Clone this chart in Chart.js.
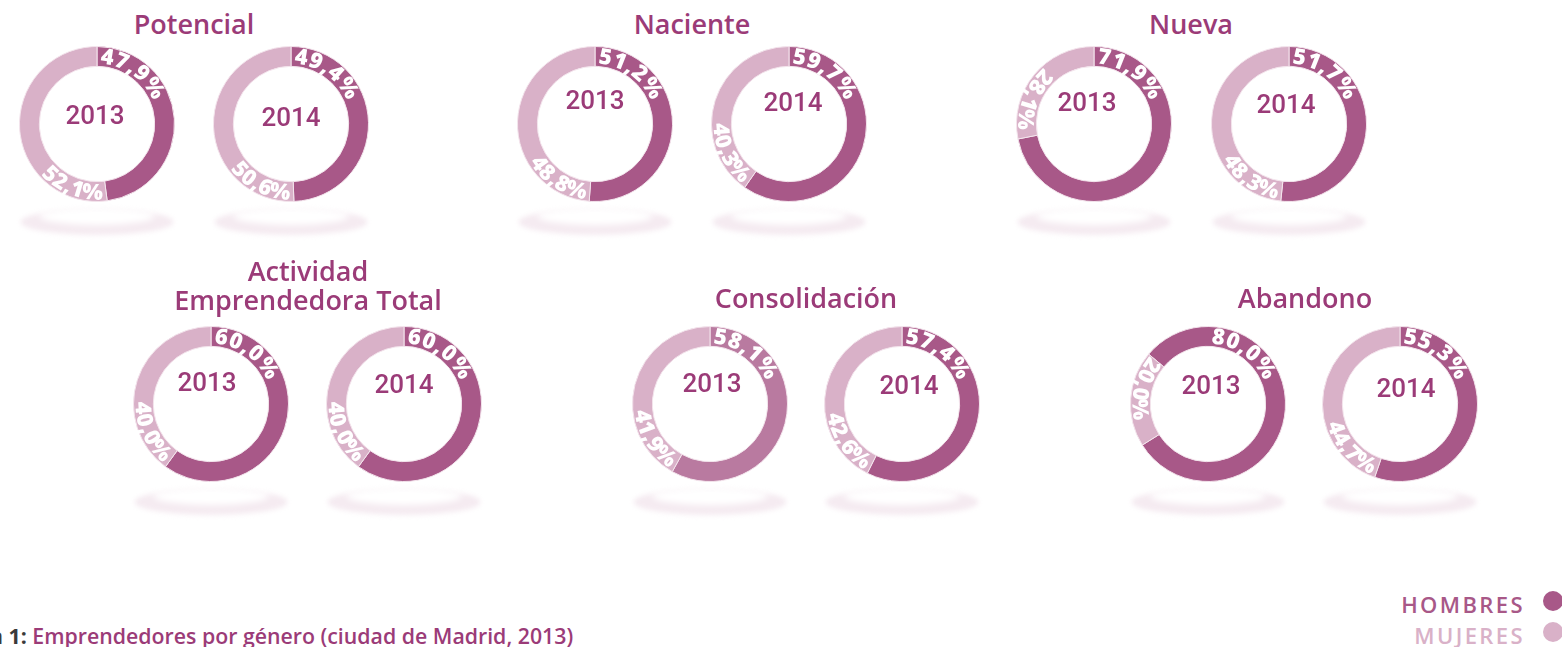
<!DOCTYPE html>
<html>
<head>
<meta charset="utf-8">
<script src="https://cdn.jsdelivr.net/npm/chart.js@4/dist/chart.umd.min.js"></script>
<style>
  html, body { margin: 0; padding: 0; background: #fff; }
  #wrap { position: relative; width: 1562px; height: 647px; overflow: hidden; font-family: "Open Sans", sans-serif; }
  .title { position: absolute; color: #9b3b78; font-weight: 600; font-size: 27px; line-height: 29px; text-align: center; transform: translateX(-50%); white-space: nowrap; }
  .year { position: absolute; color: #9b3b78; font-family: Roboto, sans-serif; font-weight: 500; font-size: 26px; line-height: 26px; transform: translate(-50%, -50%); }
  .cv { position: absolute; }
  #caption { position: absolute; left: -11px; top: 621px; font-size: 21.3px; font-weight: 600; color: #9b3b78; white-space: nowrap; }
  #caption b { color: #3a3a3a; font-weight: 700; }
  .leg { position: absolute; right: 37px; font-size: 22px; font-weight: 600; letter-spacing: 2.4px; white-space: nowrap; }
  .dot { position: absolute; width: 20px; height: 20px; border-radius: 50%; }
</style>
</head>
<body>
<div id="wrap"></div>
<script>
// ---- data ----
const groups = ['Potencial', 'Naciente', 'Nueva', 'Actividad Emprendedora Total', 'Consolidación', 'Abandono'];
const years = ['2013', '2014'];
const seriesNames = ['HOMBRES', 'MUJERES'];
const hombres2013 = [47.9, 51.2, 71.9, 60.0, 58.1, 80.0];
const mujeres2013 = [52.1, 48.8, 28.1, 40.0, 41.9, 20.0];
const hombres2014 = [49.4, 59.7, 51.7, 60.0, 57.4, 55.3];
const mujeres2014 = [50.6, 40.3, 48.3, 40.0, 42.6, 44.7];
const captionPrefix = 'n 1:';
const captionText = 'Emprendedores por género (ciudad de Madrid, 2013)';

// ---- layout / style (separate from data) ----
const DARK = '#a85888', DARK_ALT = '#b97aa0', LIGHT = '#d9b1c8';
const centers = [ // [cx2013, cx2014, cy]
  [97, 291, 124], [595, 789, 124], [1094, 1289, 124],
  [211, 404, 404], [710, 902, 404], [1208, 1400, 404]
];
const yearOffsets = [ // [[dx,dy] 2013, [dx,dy] 2014]
  [[-2, -9], [0, -7]], [[0, -24], [4, -22]], [[-7, -22], [-3, -20]],
  [[-4, -22], [0, -20]], [[2, -21], [7, -19]], [[3, -19], [6, -16]]
];
const rotations = [[0, 0], [0, 0], [0, 0], [0, 0], [0, 0], [-50, 0]];
const lightGaps = [[4, 4], [4, 4], [9, 4], [4, 4], [4, 4], [25, 4]];
const titlePos = [[194, 9], [692, 9], [1191, 9], [308, 256], [806, 283], [1305, 283]];

const wrap = document.getElementById('wrap');
const fmt = v => v.toFixed(1).replace('.', ',') + '%';

function drawArcText(ctx, text, cx, cy, r, angle, dir) {
  ctx.textAlign = 'center';
  ctx.textBaseline = 'alphabetic';
  const chars = text.split('');
  const widths = chars.map(c => ctx.measureText(c).width + 0.6);
  const total = widths.reduce((a, b) => a + b, 0);
  let th = dir === 1 ? angle : angle + total / r;
  chars.forEach((ch, i) => {
    const w = widths[i];
    const tc = th + dir * (w / 2) / r;
    ctx.save();
    ctx.translate(cx + r * Math.cos(tc), cy + r * Math.sin(tc));
    ctx.rotate(dir === 1 ? tc + Math.PI / 2 : tc - Math.PI / 2);
    ctx.fillText(ch, 0, 0);
    ctx.restore();
    th += dir * w / r;
  });
}

const decoPlugin = {
  id: 'deco',
  beforeDraw(chart) {
    const ctx = chart.ctx;
    const a = chart.getDatasetMeta(0).data[0];
    const cx = a.x, cy = a.y, R = a.outerRadius;
    ctx.save();
    ctx.filter = 'blur(2.5px)';
    ctx.fillStyle = '#f5ebf1';
    ctx.beginPath();
    ctx.ellipse(cx, cy + 98, R - 1, 13, 0, 0, Math.PI * 2);
    ctx.fill();
    ctx.filter = 'blur(3px)';
    ctx.fillStyle = '#ffffff';
    ctx.beginPath();
    ctx.ellipse(cx, cy + 92, R - 20, 9, 0, 0, Math.PI * 2);
    ctx.fill();
    ctx.restore();
  },
  afterDatasetsDraw(chart, args, opts) {
    const ctx = chart.ctx;
    const meta = chart.getDatasetMeta(0);
    const ds = chart.data.datasets[0].data;
    const a0 = meta.data[0], a1 = meta.data[1];
    const cx = a0.x, cy = a0.y;
    ctx.save();
    ctx.fillStyle = '#ffffff';
    ctx.font = '800 22px "Open Sans"';
    drawArcText(ctx, fmt(ds[0]), cx, cy, 60.5, -Math.PI / 2 + 3 / 70, 1);
    drawArcText(ctx, fmt(ds[1]), cx, cy, 75.5, a1.startAngle + opts.gap / 75, -1);
    ctx.restore();
  }
};

groups.forEach((g, gi) => {
  const t = document.createElement('div');
  t.className = 'title';
  t.style.left = titlePos[gi][0] + 'px';
  t.style.top = titlePos[gi][1] + 'px';
  if (gi === 3) t.innerHTML = 'Actividad<br>Emprendedora Total'; else t.textContent = g;
  wrap.appendChild(t);

  years.forEach((y, yi) => {
    const cx = centers[gi][yi], cy = centers[gi][2];
    const vals = yi === 0 ? [hombres2013[gi], mujeres2013[gi]] : [hombres2014[gi], mujeres2014[gi]];
    const cv = document.createElement('canvas');
    cv.className = 'cv';
    cv.width = 200; cv.height = 240;
    cv.style.left = (cx - 100) + 'px';
    cv.style.top = (cy - 100) + 'px';
    cv.style.width = '200px'; cv.style.height = '240px';
    wrap.appendChild(cv);
    const dark = (gi === 4 && yi === 0) ? DARK_ALT : DARK;
    new Chart(cv, {
      type: 'doughnut',
      data: {
        labels: seriesNames,
        datasets: [{ data: vals, backgroundColor: [dark, LIGHT], borderWidth: 1, borderColor: '#f3e4ec' }]
      },
      options: {
        responsive: false, animation: false, cutout: '74.4%',
        rotation: rotations[gi][yi],
        layout: { padding: { left: 22, right: 22, top: 22, bottom: 62 } },
        plugins: { legend: { display: false }, tooltip: { enabled: false }, deco: { gap: lightGaps[gi][yi] } }
      },
      plugins: [decoPlugin]
    });
    const yd = document.createElement('div');
    yd.className = 'year';
    yd.textContent = y;
    yd.style.left = (cx + yearOffsets[gi][yi][0]) + 'px';
    yd.style.top = (cy + yearOffsets[gi][yi][1]) + 'px';
    wrap.appendChild(yd);
  });
});

const cap = document.createElement('div');
cap.id = 'caption';
cap.innerHTML = '<b>' + captionPrefix + '</b> ' + captionText;
wrap.appendChild(cap);

[[seriesNames[0], DARK, 589, 601], [seriesNames[1], LIGHT, 620, 632]].forEach(([txt, col, top, dy]) => {
  const l = document.createElement('div');
  l.className = 'leg';
  l.style.top = top + 'px';
  l.style.color = col;
  l.textContent = txt;
  wrap.appendChild(l);
  const d = document.createElement('div');
  d.className = 'dot';
  d.style.background = col;
  d.style.left = '1543px';
  d.style.top = (dy - 10) + 'px';
  wrap.appendChild(d);
});
</script>
</body>
</html>
